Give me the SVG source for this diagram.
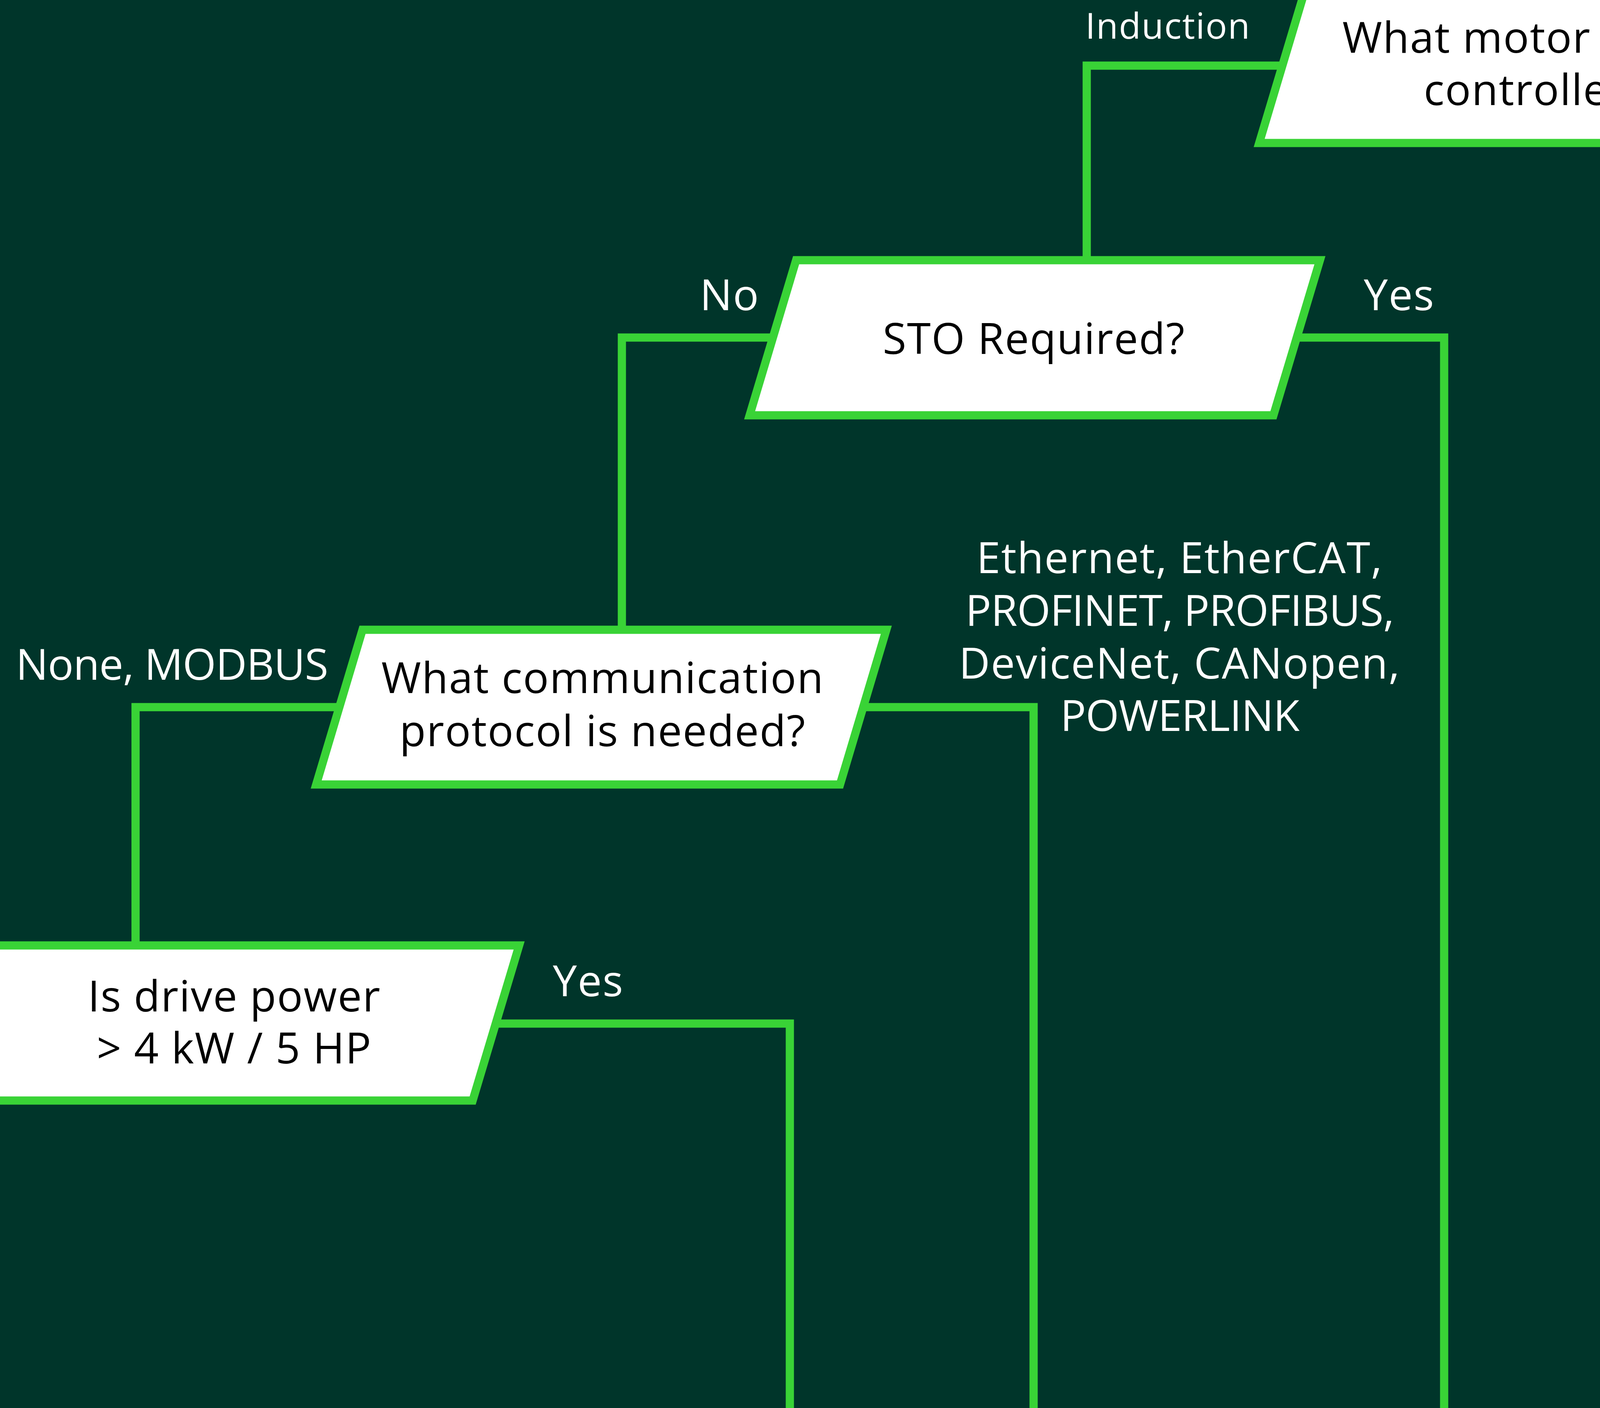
<svg xmlns="http://www.w3.org/2000/svg" width="5702" height="3604" viewBox="0 0 5702 3604">
<style>
.bg{fill:#00352A}
.conn{fill:none;stroke:#39D336;stroke-width:21;stroke-linejoin:miter;stroke-linecap:butt}
.node{fill:#FFFFFF;stroke:#39D336;stroke-width:21;stroke-linejoin:miter}
.nt{font-family:"Open Sans","Liberation Sans",sans-serif;font-size:110px;fill:#000000;text-anchor:middle;letter-spacing:2px}
.lbl{font-family:"Open Sans","Liberation Sans",sans-serif;font-size:110px;fill:#FFFFFF;text-anchor:middle;letter-spacing:2px}
.caps{letter-spacing:-1px}
.lbls{font-family:"Open Sans","Liberation Sans",sans-serif;font-size:92px;fill:#FFFFFF;text-anchor:middle;letter-spacing:1.8px}
</style>
<rect class="bg" x="0" y="0" width="5702" height="3604"/>
<g id="connectors">
<path class="conn" d="M3300 168 H2782 V670"/>
<path class="conn" d="M4600 168 H5088 V3620"/>
<path class="conn" d="M1990 864 H1592 V1616"/>
<path class="conn" d="M3300 864 H3697 V3620"/>
<path class="conn" d="M880 1810 H347 V2424"/>
<path class="conn" d="M2200 1810 H2646 V3620"/>
<path class="conn" d="M1250 2620 H2022 V3620"/>
</g>
<g id="labels">
<text class="lbls" x="2990" y="99">Induction</text>
<text class="lbls" x="5173" y="99">Permanent Magnet</text>
<text class="lbl" x="1868" y="794">No</text>
<text class="lbl" x="3582" y="794">Yes</text>
<text class="lbl caps" x="440" y="1740">None, MODBUS</text>
<text class="lbl" x="3020" y="1467">Ethernet, EtherCAT,</text>
<text class="lbl caps" x="3020" y="1602">PROFINET, PROFIBUS,</text>
<text class="lbl" x="3020" y="1737">DeviceNet, CANopen,</text>
<text class="lbl caps" x="3020" y="1871">POWERLINK</text>
<text class="lbl" x="1506" y="2550">Yes</text>
</g>
<g id="node-motor">
<polygon class="node" points="3342.5,-31 4681.5,-31 4562.5,366 3223.5,366"/>
<text class="nt" x="3940" y="135">What motor will be</text>
<text class="nt" x="3940" y="269">controlled?</text>
</g>
<g id="node-sto">
<polygon class="node" points="2038,666 3379,666 3260,1063 1919,1063"/>
<text class="nt" x="2647" y="906">STO Required?</text>
</g>
<g id="node-comm">
<polygon class="node" points="928,1612 2269,1612 2150.5,2008 809.5,2008"/>
<text class="nt" x="1543" y="1774">What communication</text>
<text class="nt" x="1543" y="1910">protocol is needed?</text>
</g>
<g id="node-power">
<polygon class="node" points="-12,2420 1329,2420 1210,2817 -131,2817"/>
<text class="nt" x="600" y="2589">Is drive power</text>
<text class="nt" x="600" y="2722">&gt; 4 kW / 5 HP</text>
</g>
</svg>
